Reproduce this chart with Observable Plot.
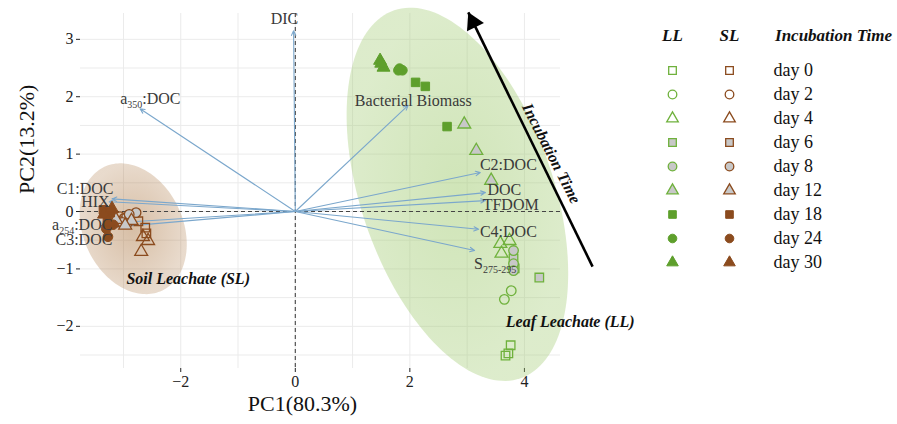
<!DOCTYPE html>
<html><head><meta charset="utf-8">
<script src="https://cdn.jsdelivr.net/npm/d3@7"></script>
<script src="https://cdn.jsdelivr.net/npm/@observablehq/plot@0.6"></script>
<style>
body{margin:0;background:#fff;}
#wrap{position:relative;width:897px;height:424px;}
#main{position:absolute;left:0;top:0;}
#legend{position:absolute;left:640px;top:0;}
svg{overflow:visible}
svg text{font-family:"Liberation Serif","DejaVu Serif",serif;}
</style></head><body><div id="wrap"><div id="main"></div><div id="legend"></div></div>
<script>
const FONT = '"Liberation Serif","DejaVu Serif",serif';
const GREEN = "#5e9f2c", GREEN_OPEN = "#6fb13c", BROWN = "#8b4b1e", GRAY = "#c8c8c8";

const days = [0, 2, 4, 6, 8, 12, 18, 24, 30];
const dayLabels = days.map(d => "day " + d);

// Leaf leachate scores [day, PC1, PC2]
const LL = [
  [0, 3.76, -2.33], [0, 3.72, -2.47], [0, 3.67, -2.51],
  [2, 3.77, -1.38], [2, 3.65, -1.53], [2, 3.81, -0.99],
  [4, 3.58, -0.56], [4, 3.74, -0.51], [4, 3.60, -0.73],
  [6, 4.26, -1.15], [6, 3.81, -0.82], [6, 3.83, -0.99],
  [8, 3.81, -0.68], [8, 3.81, -0.91], [8, 3.81, -1.03],
  [12, 2.95, 1.52], [12, 3.16, 1.06], [12, 3.42, 0.54],
  [18, 2.10, 2.25], [18, 2.27, 2.18], [18, 2.65, 1.48],
  [24, 1.82, 2.49], [24, 1.87, 2.46], [24, 1.80, 2.46],
  [30, 1.48, 2.63], [30, 1.54, 2.51], [30, 1.50, 2.58]
];
// Soil leachate scores [day, PC1, PC2]
const SL = [
  [0, -2.74, -0.17], [0, -2.62, -0.28], [0, -2.60, -0.38],
  [2, -2.99, -0.12], [2, -2.92, -0.19], [2, -3.06, -0.09],
  [4, -2.57, -0.51], [4, -2.69, -0.70], [4, -2.66, -0.44],
  [6, -3.04, -0.17], [6, -2.95, -0.12], [6, -3.11, -0.19],
  [8, -2.78, -0.02], [8, -3.02, -0.19], [8, -2.90, -0.05],
  [12, -2.86, -0.16], [12, -3.13, -0.14], [12, -2.97, -0.24],
  [18, -3.35, 0.03], [18, -3.23, -0.02], [18, -3.28, -0.12],
  [24, -3.27, -0.44], [24, -3.30, -0.30], [24, -3.18, -0.23],
  [30, -3.34, -0.05], [30, -3.20, 0.05], [30, -3.27, -0.19]
];

// Variable loadings (arrow tips) and label positions, in PC units
const loadNames = ["DIC", "a_350:DOC", "Bacterial Biomass", "C2:DOC", "DOC", "TFDOM", "C4:DOC", "S_275-295", "C1:DOC", "HIX", "a_254:DOC", "C3:DOC"];
const loadPC1  = [-0.03, -2.71, 1.97, 3.23, 3.32, 3.32, 3.20, 3.13, -3.20, -3.25, -3.20, -3.25];
const loadPC2  = [3.15, 1.79, 1.85, 0.68, 0.33, 0.19, -0.31, -0.68, 0.22, 0.17, -0.20, -0.28];
const labelPC1 = [-0.19, -2.53, 2.06, 3.72, 3.65, 3.76, 3.72, 3.49, -3.67, -3.49, -3.72, -3.69];
const labelPC2 = [3.36, 1.97, 1.92, 0.82, 0.37, 0.12, -0.35, -0.92, 0.40, 0.17, -0.23, -0.49];

// Confidence ellipses: centre, semi-axes, orientation (deg)
const ellipseGroups = ["SL", "LL"];
const ellipseCX = [-2.83, 2.83];
const ellipseCY = [-0.30, 0.30];
const ellipseA  = [1.19, 3.39];
const ellipseB  = [0.87, 1.68];
const ellipseAngle = [115, 109];

// Annotations
const groupNotes = ["Soil Leachate (SL)", "Leaf Leachate (LL)"];
const groupNoteX = [-1.87, 4.80];
const groupNoteY = [-1.17, -1.93];
const timeArrow = [{x1: 5.19, y1: -0.96, x2: 3.02, y2: 3.47}];
const timeLabel = [{text: "Incubation Time", x: 4.47, y: 1.01}];

const xTicks = [-2, 0, 2, 4];
const yTicks = [-2, -1, 0, 1, 2, 3];
const gridX = [-3, -2, -1, 0, 1, 2, 3, 4];
const gridY = [-2.5, -2, -1.5, -1, -0.5, 0, 0.5, 1, 1.5, 2, 2.5, 3];
const fmt = d => (d < 0 ? "\u2212" + Math.abs(d) : String(d));

// ---- derived tables ----
const toRows = (arr, g) => arr.map(([day, pc1, pc2]) => ({group: g, day, pc1, pc2}));
const rows = [...toRows(LL, "LL"), ...toRows(SL, "SL")];
const shapeOf = day => ["square", "circle", "triangle"][days.indexOf(day) % 3];
const kindOf = day => Math.floor(days.indexOf(day) / 3); // 0 open, 1 gray, 2 solid
const loadings = loadNames.map((n, i) => ({name: n, x: loadPC1[i], y: loadPC2[i], lx: labelPC1[i], ly: labelPC2[i]}));

const ellipsePts = [];
ellipseGroups.forEach((g, i) => {
  const ang = ellipseAngle[i] * Math.PI / 180, ca = Math.cos(ang), sa = Math.sin(ang);
  for (let k = 0; k < 160; k++) {
    const t = 2 * Math.PI * k / 160;
    const u = ellipseA[i] * Math.cos(t), v = ellipseB[i] * Math.sin(t);
    ellipsePts.push({group: g, x: ellipseCX[i] + u * ca - v * sa, y: ellipseCY[i] + u * sa + v * ca});
  }
});

const defs = () => {
  const d = d3.create("svg:defs");
  const gG = d.append("radialGradient").attr("id", "gradLL");
  gG.append("stop").attr("offset", "0%").attr("stop-color", "rgb(160,202,112)").attr("stop-opacity", 0.5);
  gG.append("stop").attr("offset", "100%").attr("stop-color", "rgb(160,202,112)").attr("stop-opacity", 0.36);
  const gB = d.append("radialGradient").attr("id", "gradSL");
  gB.append("stop").attr("offset", "0%").attr("stop-color", "rgb(175,125,75)").attr("stop-opacity", 0.5);
  gB.append("stop").attr("offset", "100%").attr("stop-color", "rgb(175,125,75)").attr("stop-opacity", 0.28);
  return d.node();
};

function dotsFor(data, xKey, yKey, r) {
  const out = [];
  for (const g of ["LL", "SL"]) {
    const col = g === "LL" ? GREEN : BROWN;
    const openCol = g === "LL" ? GREEN_OPEN : BROWN;
    const sub = data.filter(d => d.group === g);
    out.push(Plot.dot(sub.filter(d => kindOf(d.day) === 0), {x: xKey, y: yKey, symbol: d => shapeOf(d.day), r, fill: "none", stroke: openCol, strokeWidth: 1.3}));
    out.push(Plot.dot(sub.filter(d => kindOf(d.day) === 1), {x: xKey, y: yKey, symbol: d => shapeOf(d.day), r, fill: GRAY, stroke: openCol, strokeWidth: 1.3}));
    out.push(Plot.dot(sub.filter(d => kindOf(d.day) === 2), {x: xKey, y: yKey, symbol: d => shapeOf(d.day), r, fill: col, stroke: col, strokeWidth: 1}));
  }
  return out;
}

const main = Plot.plot({
  width: 640, height: 424,
  marginLeft: 80, marginRight: 80, marginTop: 13, marginBottom: 56,
  x: {domain: [-3.75, 4.63], ticks: xTicks, tickFormat: fmt, tickSize: 4, tickPadding: 3, label: null},
  y: {domain: [-2.735, 3.45], ticks: yTicks, tickFormat: fmt, tickSize: 4, tickPadding: 3, label: null},
  style: {fontFamily: FONT, fontSize: "16px", color: "#222", background: "white", overflow: "visible"},
  marks: [
    defs,
    Plot.ruleX(gridX, {stroke: "#ebebeb", strokeWidth: 1}),
    Plot.ruleY(gridY, {stroke: "#ebebeb", strokeWidth: 1}),
    Plot.line(ellipsePts.filter(d => d.group === "SL"), {x: "x", y: "y", curve: "linear-closed", fill: "url(#gradSL)", stroke: "none", clip: false}),
    Plot.line(ellipsePts.filter(d => d.group === "LL"), {x: "x", y: "y", curve: "linear-closed", fill: "url(#gradLL)", stroke: "none", clip: false}),
    Plot.ruleY([0], {stroke: "#444", strokeDasharray: "4,3", strokeWidth: 1.1}),
    Plot.ruleX([0], {stroke: "#444", strokeDasharray: "4,3", strokeWidth: 1.1}),
    Plot.arrow(loadings, {x1: 0, y1: 0, x2: "x", y2: "y", stroke: "#7ba7cc", strokeWidth: 1.1, headLength: 7, headAngle: 50}),
    ...dotsFor(rows, "pc1", "pc2", 4.8),
    Plot.text(loadings, {x: "lx", y: "ly", text: "name", fontSize: 16, fill: "#3a3a3a", textAnchor: "middle"}),
    Plot.text(groupNotes, {x: (d, i) => groupNoteX[i], y: (d, i) => groupNoteY[i], text: d => d, fontSize: 16, fontWeight: "bold", fontStyle: "italic", fill: "#111"}),
    Plot.link(timeArrow, {x1: "x1", y1: "y1", x2: "x2", y2: "y2", stroke: "black", strokeWidth: 2.6}),
    Plot.dot(timeArrow, {x: "x2", y: "y2", symbol: "triangle", r: 7, fill: "black", stroke: "none", rotate: -26, dx: 4.8, dy: 9.8}),
    Plot.text(timeLabel, {x: "x", y: "y", text: "text", rotate: 63, fontSize: 16, fontWeight: "bold", fontStyle: "italic", fill: "#111"}),
    Plot.text(["PC1(80.3%)"], {frameAnchor: "bottom", text: d => d, dy: 42, dx: -18, fontSize: 22, fill: "#111"}),
    Plot.text(["PC2(13.2%)"], {frameAnchor: "left", text: d => d, rotate: -90, dx: -54, dy: 3, fontSize: 22, fill: "#111"})
  ]
});

// subscripts in loading labels
d3.select(main).selectAll("text").each(function () {
  const t = this.textContent;
  const m = t.match(/^(.*?)_([\d\-]+)(.*)$/);
  if (!m) return;
  const s = d3.select(this);
  s.text(null);
  s.append("tspan").text(m[1]);
  s.append("tspan").attr("font-size", "10px").attr("dy", "4").text(m[2]);
  if (m[3]) s.append("tspan").attr("dy", "-4").text(m[3]);
});
document.getElementById("main").appendChild(main);

// ---- legend ----
const legRows = [];
for (const g of ["LL", "SL"]) for (const d of days) legRows.push({group: g, day: d});
const legend = Plot.plot({
  width: 257, height: 424, margin: 0,
  x: {type: "point", domain: ["LL", "SL"], range: [32, 89], padding: 0, axis: null},
  y: {type: "point", domain: days, range: [66, 265], padding: 0, axis: null},
  style: {fontFamily: FONT, background: "white", overflow: "visible"},
  marks: [
    ...dotsFor(legRows, "group", "day", 4.3),
    Plot.text(days, {x: () => "SL", y: d => d, text: (d, i) => dayLabels[i], dx: 44, textAnchor: "start", fontSize: 18, fill: "#111"}),
    Plot.text(["LL", "SL"], {x: d => d, y: () => days[0], text: d => d, dy: -35, fontSize: 17, fontWeight: "bold", fontStyle: "italic", fill: "#111"}),
    Plot.text(["Incubation Time"], {x: () => "SL", y: () => days[0], text: d => d, dx: 104, dy: -35, fontSize: 17, fontWeight: "bold", fontStyle: "italic", fill: "#111"})
  ]
});
document.getElementById("legend").appendChild(legend);
</script></body></html>
